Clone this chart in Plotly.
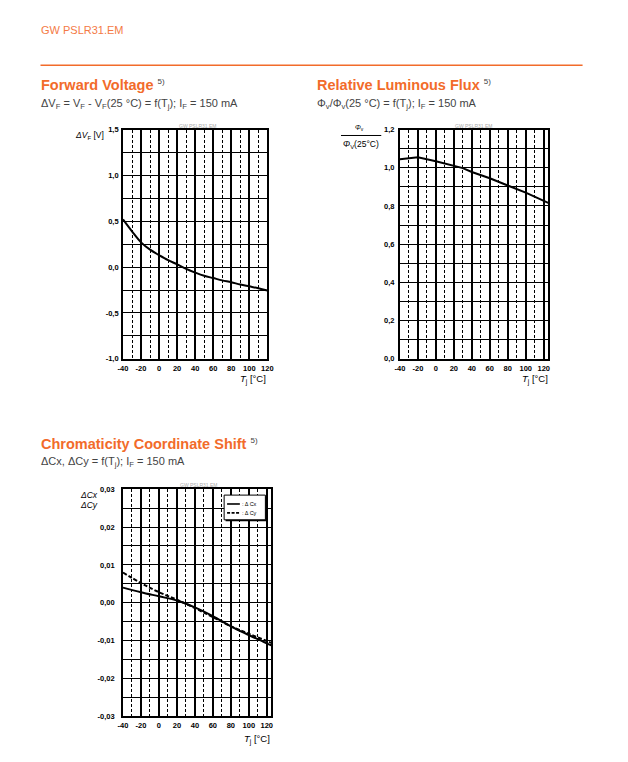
import plotly.graph_objects as go

PAGE_W, PAGE_H = 628, 762
OFF = 8  # default body margin of the html page
W, H = PAGE_W - 2 * OFF, PAGE_H - 2 * OFF  # figure fits the window without scrollbars

# ---------------- data ----------------
tj_vf = [-40, -30, -20, -10, 0, 10, 20, 30, 40, 50, 60, 70, 80, 90, 100, 110, 120]
dvf = [0.52, 0.39, 0.27, 0.19, 0.13, 0.075, 0.03, -0.02, -0.06, -0.095, -0.12, -0.145, -0.165, -0.19, -0.21, -0.23, -0.255]

tj_flux = [-40, -20, 0, 20, 30, 40, 60, 80, 100, 125]
rel_flux = [1.045, 1.055, 1.034, 1.01, 0.998, 0.978, 0.945, 0.907, 0.87, 0.816]

tj_cc = [-40, -20, 0, 20, 40, 60, 80, 100, 120, 125]
d_cx = [0.0040, 0.0028, 0.0017, 0.0006, -0.0012, -0.0035, -0.0062, -0.0085, -0.0107, -0.0112]
d_cy = [0.0080, 0.0052, 0.0028, 0.0008, -0.0014, -0.0038, -0.0062, -0.0082, -0.0101, -0.0106]

x_tickvals = [-40, -20, 0, 20, 40, 60, 80, 100, 120]
x_ticktext = ["-40", "-20", "0", "20", "40", "60", "80", "100", "120"]
vf_tickvals = [-1.0, -0.5, 0.0, 0.5, 1.0, 1.5]
vf_ticktext = ["-1,0", "-0,5", "0,0", "0,5", "1,0", "1,5"]
flux_tickvals = [0.0, 0.2, 0.4, 0.6, 0.8, 1.0, 1.2]
flux_ticktext = ["0,0", "0,2", "0,4", "0,6", "0,8", "1,0", "1,2"]
cc_tickvals = [-0.03, -0.02, -0.01, 0.0, 0.01, 0.02, 0.03]
cc_ticktext = ["-0,03", "-0,02", "-0,01", "0,00", "0,01", "0,02", "0,03"]
legend_names = [": Δ Cx", ": Δ Cy"]

ORANGE = "#F26B2A"
GRAY = "#444444"
FONT = "Liberation Sans"


def px(x):
    return (x - OFF) / W


def py(y):
    return 1 - (y - OFF) / H


fig = go.Figure()
fig.add_trace(go.Scatter(x=tj_vf, y=dvf, mode="lines", line=dict(color="black", width=2),
                         line_shape="spline", showlegend=False, xaxis="x", yaxis="y"))
fig.add_trace(go.Scatter(x=tj_flux, y=rel_flux, mode="lines", line=dict(color="black", width=2),
                         showlegend=False, xaxis="x2", yaxis="y2"))
fig.add_trace(go.Scatter(x=tj_cc, y=d_cy, mode="lines", line=dict(color="black", width=2, dash="4px,2px"),
                         name=legend_names[1], line_shape="spline", showlegend=False, xaxis="x3", yaxis="y3"))
fig.add_trace(go.Scatter(x=tj_cc, y=d_cx, mode="lines", line=dict(color="black", width=2),
                         name=legend_names[0], line_shape="spline", showlegend=False, xaxis="x3", yaxis="y3"))

tickfont = dict(family=FONT, size=7.5, color="black", weight="bold")


def xaxis(domain, rng, anchor):
    return dict(domain=domain, range=rng, anchor=anchor, tickvals=x_tickvals, ticktext=x_ticktext,
                showgrid=True, gridcolor="black", gridwidth=1.6,
                minor=dict(dtick=10, tick0=0, showgrid=True, gridcolor="black", gridwidth=1,
                           griddash="3px,2px", ticks=""),
                showline=True, linecolor="black", linewidth=1.8, mirror=True,
                ticks="", tickfont=tickfont, zeroline=False, fixedrange=True, ticklabelstandoff=1)


def yaxis(domain, rng, anchor, tv, tt, mdt, standoff):
    return dict(domain=domain, range=rng, anchor=anchor, tickvals=tv, ticktext=tt,
                showgrid=True, gridcolor="black", gridwidth=1.1,
                minor=dict(dtick=mdt, tick0=0, showgrid=True, gridcolor="black", gridwidth=1.1, ticks=""),
                showline=True, linecolor="black", linewidth=1.8, mirror=True,
                ticks="", tickfont=tickfont, zeroline=False, fixedrange=True, ticklabelstandoff=standoff)


d1x = [px(120), px(267)]
d1y = [py(359), py(127)]
d2x = [px(402), px(553)]
d2y = [py(359), py(127)]
d3x = [px(120), px(271)]
d3y = [py(721), py(491)]

fig.update_layout(
    width=W, height=H,
    margin=dict(l=0, r=0, t=0, b=0),
    paper_bgcolor="white", plot_bgcolor="white",
    font=dict(family=FONT, color="black"),
    xaxis=xaxis(d1x, [-40, 120], "y"),
    yaxis=yaxis(d1y, [-1.0, 1.5], "x", vf_tickvals, vf_ticktext, 0.25, 1),
    xaxis2=xaxis(d2x, [-40, 125], "y2"),
    yaxis2=yaxis(d2y, [0, 1.2], "x2", flux_tickvals, flux_ticktext, 0.1, 2),
    xaxis3=xaxis(d3x, [-40, 125], "y3"),
    yaxis3=yaxis(d3y, [-0.03, 0.03], "x3", cc_tickvals, cc_ticktext, 0.005, 5),
    showlegend=False,
)

shapes = [
    dict(type="line", xref="paper", yref="paper", x0=px(36), x1=px(588), y0=py(62), y1=py(62),
         line=dict(color=ORANGE, width=1.5)),
    dict(type="line", xref="paper", yref="paper", x0=px(342), x1=px(383), y0=py(133), y1=py(133),
         line=dict(color="black", width=1)),
    # legend box (shadow + box) for the chromaticity chart
    dict(type="rect", xref="paper", yref="paper", x0=px(224.5), x1=px(266.5), y0=py(523.5), y1=py(498.5),
         line=dict(width=0), fillcolor="black", layer="above"),
    dict(type="rect", xref="paper", yref="paper", x0=px(223), x1=px(265), y0=py(522), y1=py(497),
         line=dict(color="black", width=1), fillcolor="white", layer="above"),
    dict(type="line", xref="paper", yref="paper", x0=px(226), x1=px(239), y0=py(506), y1=py(506),
         line=dict(color="black", width=1.6), layer="above"),
    dict(type="line", xref="paper", yref="paper", x0=px(226), x1=px(239), y0=py(515), y1=py(515),
         line=dict(color="black", width=1.6, dash="3px,1.5px"), layer="above"),
]
fig.update_layout(shapes=shapes)

ann = []


def text(x, y, s, size, color="black", xanchor="left", yanchor="middle", family=FONT):
    ann.append(dict(x=px(x), y=py(y), xref="paper", yref="paper", text=s, showarrow=False,
                    xanchor=xanchor, yanchor=yanchor, borderpad=0,
                    align=xanchor if xanchor != "center" else "center",
                    font=dict(family=family, size=size, color=color)))


sup = "<sup><span style='color:#444444;font-size:8px'>5)</span></sup>"
text(35, 26, "GW PSLR31.EM", 11, "#F47A45")
text(35, 82, "<b>Forward Voltage</b> " + sup, 14.5, ORANGE)
text(35, 101, "ΔV<sub>F</sub> = V<sub>F</sub> - V<sub>F</sub>(25 °C) = f(T<sub>j</sub>); I<sub>F</sub> = 150 mA", 11, GRAY)
text(317, 82, "<b>Relative Luminous Flux</b> " + sup, 14.5, ORANGE)
text(317, 101, "Φ<sub>v</sub>/Φ<sub>v</sub>(25 °C) = f(T<sub>j</sub>); I<sub>F</sub> = 150 mA", 11, GRAY)
text(35, 445, "<b>Chromaticity Coordinate Shift</b> " + sup, 14.5, ORANGE)
text(35, 464, "ΔCx, ΔCy = f(T<sub>j</sub>); I<sub>F</sub> = 150 mA", 11, GRAY)

# watermarks
text(196, 123, "GW PSLR31.EM", 5, "#aaaaaa", xanchor="center")
text(477, 123, "GW PSLR31.EM", 5, "#aaaaaa", xanchor="center")
text(197, 487, "GW PSLR31.EM", 5, "#aaaaaa", xanchor="center")

# axis titles
text(102, 133, "<i>ΔV</i><sub>F</sub> [V]", 8.5, xanchor="right")
text(361, 125, "<i>Φ</i><sub>v</sub>", 7, xanchor="center")
text(362, 142, "<i>Φ</i><sub>V</sub>(25°C)", 8.5, xanchor="center")
text(96, 497, "<i>ΔCx</i>", 8.5, xanchor="right")
text(96, 507, "<i>ΔCy</i>", 8.5, xanchor="right")
text(267, 380, "<i>T</i><sub>j</sub> [°C]", 9.5, xanchor="right")
text(554, 380, "<i>T</i><sub>j</sub> [°C]", 9.5, xanchor="right")
text(271, 744, "<i>T</i><sub>j</sub> [°C]", 9.5, xanchor="right")

# legend texts
text(240, 506, legend_names[0], 5.5)
text(240, 515, legend_names[1], 5.5)

fig.update_layout(annotations=ann)

fig.write_html("out.html")
